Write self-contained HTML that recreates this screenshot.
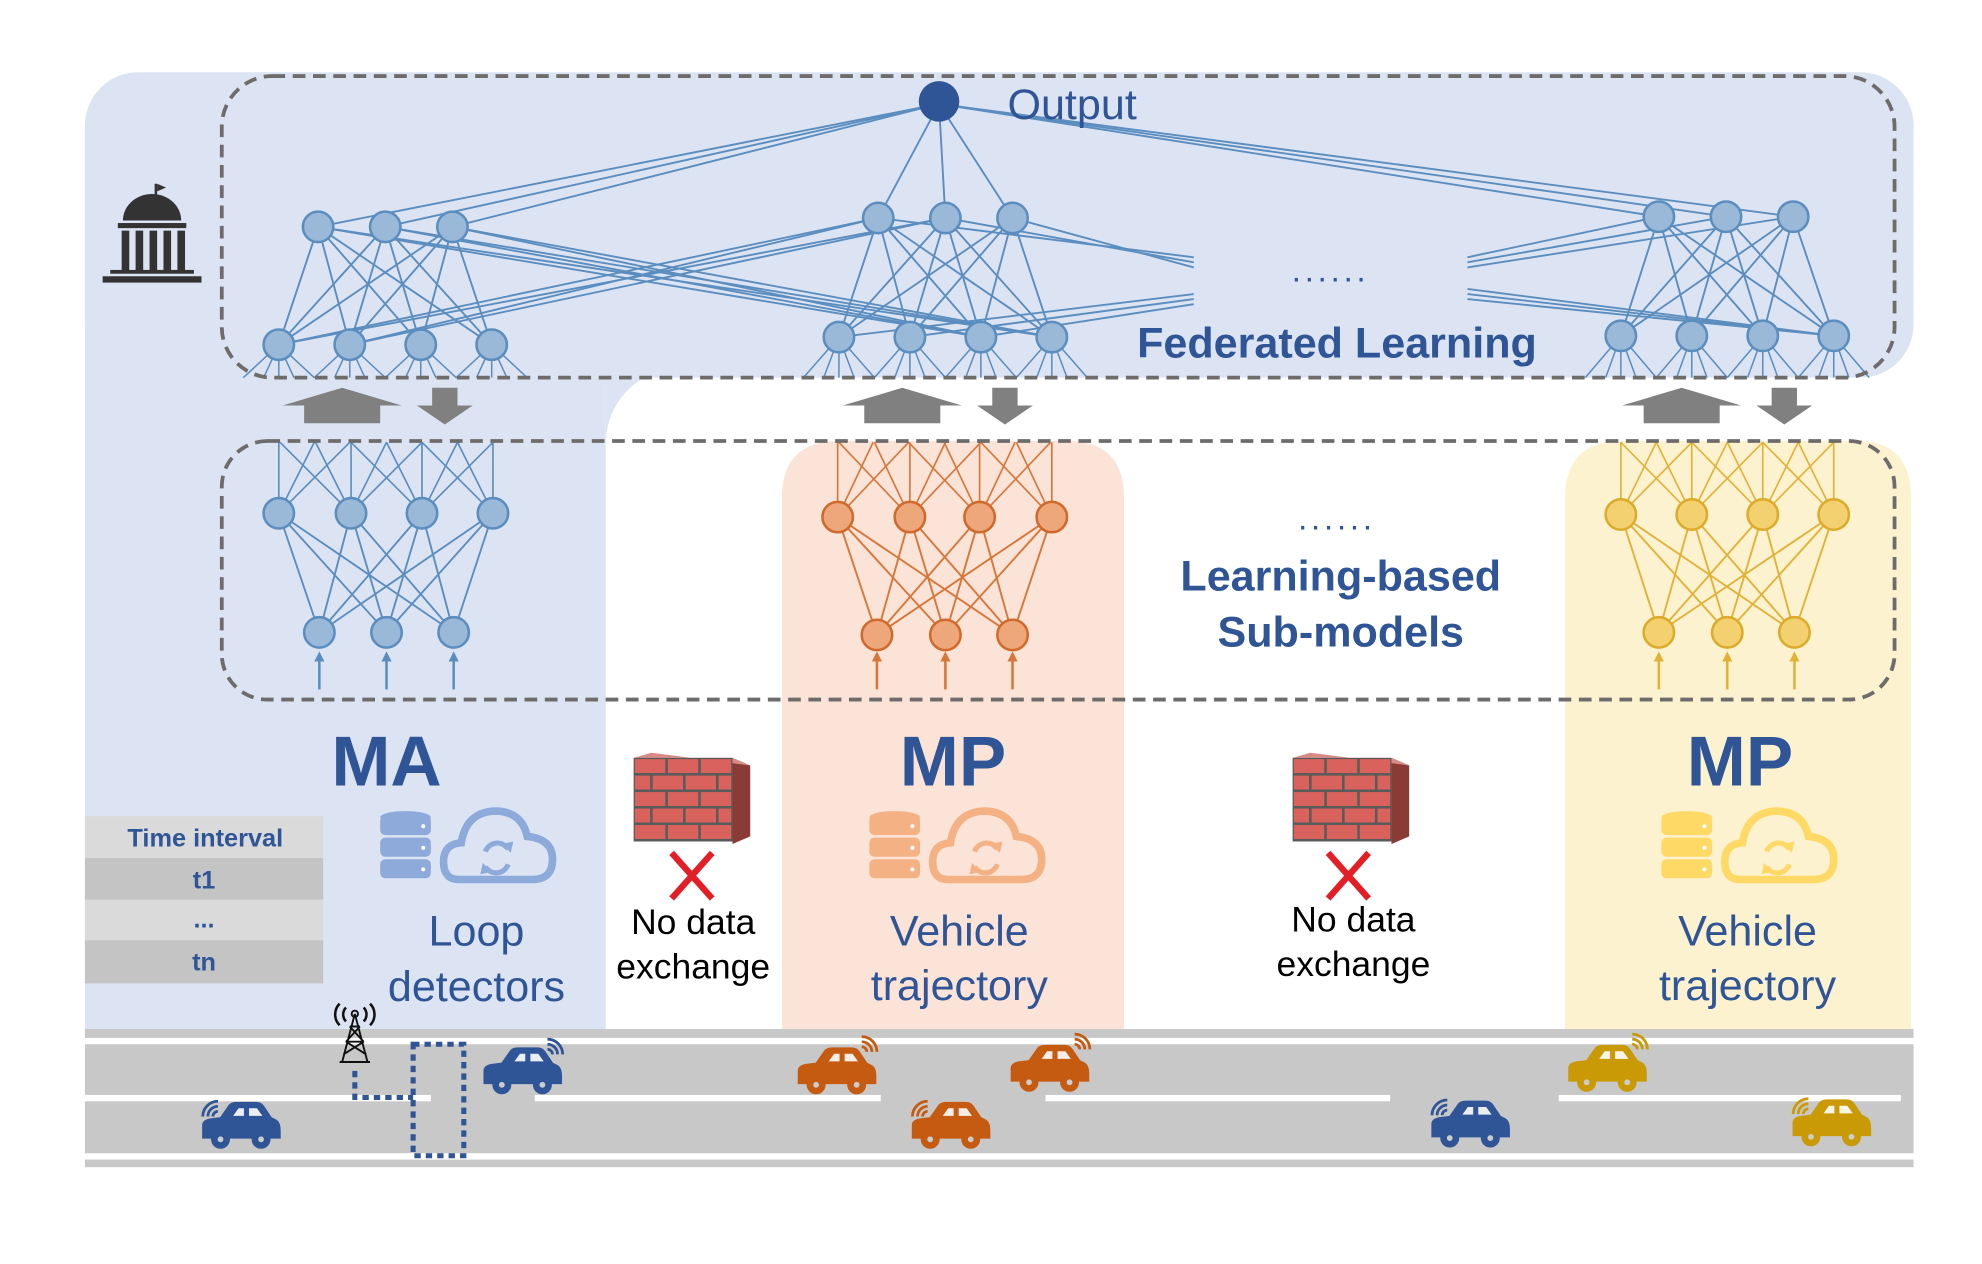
<!DOCTYPE html>
<html><head><meta charset="utf-8"><style>
html,body{margin:0;padding:0;background:#fff;width:1982px;height:1264px;overflow:hidden}
svg{display:block}
text{font-family:"Liberation Sans",Arial,sans-serif}
</style></head><body>
<svg id="s" width="1982" height="1264" viewBox="0 0 1564 997.4" preserveAspectRatio="none" xmlns="http://www.w3.org/2000/svg">
<defs>
<g id="car">
 <path d="M-30,8 L-30,-2 Q-30,-6 -24,-7 L-16,-8 L-9,-18 Q-7,-20 -3,-20 L12,-20 Q16,-20 18,-17 L24,-8 L28,-6 Q31,-4 31,2 L31,8 Z"/>
 <path d="M-7,-9 L-2,-16 L3,-16 L3,-9 Z M6,-9 L6,-16 L13,-16 L18,-9 Z" fill="#fff" opacity="0.9"/>
 <circle cx="-16" cy="9" r="7"/><circle cx="16" cy="9" r="7"/>
 <circle cx="-16" cy="9" r="2.8" fill="#ccc"/><circle cx="16" cy="9" r="2.8" fill="#ccc"/>
</g>
<g id="wifi" fill="none" stroke-width="2.2">
 <path d="M0,0 A4,4 0 0 1 4,4"/><path d="M0,-4 A8,8 0 0 1 8,4"/><path d="M0,-8 A12,12 0 0 1 12,4"/>
</g>
</defs>
<!-- backgrounds -->
<path d="M67,100 L67,815 L478,815 L478,100 Z" fill="#dce4f3"/>
<rect x="478" y="290" width="60" height="60" fill="#dce4f3"/>
<circle cx="538" cy="350" r="60" fill="#fff"/>
<rect x="538" y="298" width="80" height="52" fill="#fff"/>
<rect x="67" y="57" width="1443" height="241" rx="42" fill="#dce4f3"/>
<path d="M617,815 L617,393 Q617,348 662,348 L842,348 Q887,348 887,393 L887,815 Z" fill="#fbe4d7"/>
<path d="M1235,815 L1235,393 Q1235,348 1280,348 L1465,348 Q1508,348 1508,393 L1508,815 Z" fill="#fdf2d0"/>
<g id="net"></g>
<!-- dashed boxes -->
<rect x="175" y="60" width="1320" height="238" rx="40" fill="none" stroke="#6e6b6b" stroke-width="3" stroke-dasharray="10 6"/>
<rect x="175" y="348" width="1320" height="204" rx="36" fill="none" stroke="#6e6b6b" stroke-width="3" stroke-dasharray="10 6"/>
<!-- texts top -->
<circle cx="741" cy="80" r="16" fill="#2f5597"/>
<text x="795" y="94" font-size="34" fill="#2f5597">Output</text>
<text x="1050" y="222" font-size="26" fill="#2f5597" text-anchor="middle" letter-spacing="3">......</text>
<text x="1055" y="282" font-size="34" font-weight="bold" fill="#2f5597" text-anchor="middle">Federated Learning</text>
<text x="1055" y="418" font-size="26" fill="#2f5597" text-anchor="middle" letter-spacing="3">......</text>
<text x="1058" y="466" font-size="34" font-weight="bold" fill="#2f5597" text-anchor="middle">Learning-based</text>
<text x="1058" y="510" font-size="34" font-weight="bold" fill="#2f5597" text-anchor="middle">Sub-models</text>
<!-- building -->
<g fill="#333">
 <rect x="122" y="145" width="2" height="14"/><path d="M124,145 L131,148 L124,151Z"/>
 <path d="M97,174 A22,20 0 0 1 143,174 Z"/>
 <rect x="93" y="176" width="54" height="4"/>
 <rect x="96" y="182" width="6" height="32"/><rect x="107" y="182" width="6" height="32"/><rect x="118" y="182" width="6" height="32"/><rect x="129" y="182" width="6" height="32"/><rect x="140" y="182" width="6" height="32"/>
 <rect x="87" y="213" width="66" height="3"/><rect x="81" y="218" width="78" height="5"/>
</g>
<!-- gray arrows -->
<g fill="#808080" id="arrows"></g>
<!-- labels -->
<text x="305" y="620" font-size="56" font-weight="bold" fill="#2f5597" text-anchor="middle">MA</text>
<text x="752" y="620" font-size="56" font-weight="bold" fill="#2f5597" text-anchor="middle">MP</text>
<text x="1373" y="620" font-size="56" font-weight="bold" fill="#2f5597" text-anchor="middle">MP</text>
<text x="376" y="746" font-size="34" fill="#2f5597" text-anchor="middle">Loop</text>
<text x="376" y="790" font-size="34" fill="#2f5597" text-anchor="middle">detectors</text>
<text x="757" y="746" font-size="34" fill="#2f5597" text-anchor="middle">Vehicle</text>
<text x="757" y="789" font-size="34" fill="#2f5597" text-anchor="middle">trajectory</text>
<text x="1379" y="746" font-size="34" fill="#2f5597" text-anchor="middle">Vehicle</text>
<text x="1379" y="789" font-size="34" fill="#2f5597" text-anchor="middle">trajectory</text>
<text x="547" y="737" font-size="28" fill="#000" text-anchor="middle">No data</text>
<text x="547" y="772" font-size="28" fill="#000" text-anchor="middle">exchange</text>
<text x="1068" y="735" font-size="28" fill="#000" text-anchor="middle">No data</text>
<text x="1068" y="770" font-size="28" fill="#000" text-anchor="middle">exchange</text>
<!-- table -->
<rect x="67" y="644" width="188" height="33" fill="#dadada"/>
<rect x="67" y="677" width="188" height="33" fill="#c4c4c4"/>
<rect x="67" y="710" width="188" height="32" fill="#dadada"/>
<rect x="67" y="742" width="188" height="34" fill="#c4c4c4"/>
<g font-size="20" font-weight="bold" fill="#2f5597" text-anchor="middle">
<text x="162" y="668">Time interval</text><text x="161" y="701">t1</text><text x="161" y="732">...</text><text x="161" y="766">tn</text></g>
<g id="icons"></g>
<!-- firewalls -->
<g id="fw"></g>
<!-- X -->
<g stroke="#e41e26" stroke-width="5">
<line x1="530" y1="673" x2="562" y2="709"/><line x1="562" y1="673" x2="530" y2="709"/>
<line x1="1048" y1="673" x2="1080" y2="709"/><line x1="1080" y1="673" x2="1048" y2="709"/>
</g>
<!-- road -->
<rect x="67" y="812" width="1443" height="7" fill="#c8c8c8"/>
<rect x="67" y="824" width="1443" height="40" fill="#c8c8c8"/>
<rect x="67" y="869" width="1443" height="41" fill="#c8c8c8"/>
<rect x="67" y="915" width="1443" height="6" fill="#c8c8c8"/>
<g fill="#c8c8c8"><rect x="340" y="862" width="82" height="9"/><rect x="695" y="862" width="130" height="9"/><rect x="1097" y="862" width="133" height="9"/><rect x="1500" y="862" width="10" height="9"/></g>
<!-- tower -->
<g stroke="#111" stroke-width="1.5" fill="none">
<path d="M280,800 L270,838 M280,800 L290,838 M268,838 L292,838 M273,822 L287,822 M276,810 L284,810 M273,822 L284,810 M287,822 L276,810 M271,832 L287,822 M289,832 L273,822"/>
<circle cx="280" cy="800" r="2.5"/>
<path d="M273,795 A8,8 0 0 0 273,806 M287,795 A8,8 0 0 1 287,806 M268,792 A12,12 0 0 0 268,809 M292,792 A12,12 0 0 1 292,809" stroke-width="2"/>
</g>
<g stroke="#2f5597" stroke-width="4" stroke-dasharray="5 4" fill="none">
<path d="M280,845 L280,866 L326,866"/>
<rect x="326" y="824" width="40" height="88"/>
</g>
<!-- cars -->
<g fill="#2f5597" stroke="#2f5597"><use href="#car" x="190" y="890"/><use href="#car" x="412" y="847"/><use href="#car" x="1160" y="889"/></g>
<g fill="#c55a11" stroke="#c55a11"><use href="#car" x="660" y="847"/><use href="#car" x="828" y="845"/><use href="#car" x="750" y="890"/></g>
<g fill="#c99a06" stroke="#c99a06"><use href="#car" x="1268" y="845"/><use href="#car" x="1445" y="888"/></g>
<g stroke="#2f5597"><use href="#wifi" x="432" y="828"/><use href="#wifi" x="172" y="877" transform="translate(344,0) scale(-1,1)"/><use href="#wifi" x="1142" y="876" transform="translate(2284,0) scale(-1,1)"/></g>
<g stroke="#c55a11"><use href="#wifi" x="680" y="826"/><use href="#wifi" x="848" y="824"/><use href="#wifi" x="732" y="877" transform="translate(1464,0) scale(-1,1)"/></g>
<g stroke="#c99a06"><use href="#wifi" x="1288" y="824"/><use href="#wifi" x="1427" y="875" transform="translate(2854,0) scale(-1,1)"/></g>
</svg>
<script>
var NS="http://www.w3.org/2000/svg";
function el(p,t,a){var e=document.createElementNS(NS,t);for(var k in a)e.setAttribute(k,a[k]);p.appendChild(e);return e;}
var net=document.getElementById('net');
function L(x1,y1,x2,y2,c,w){el(net,'line',{x1:x1,y1:y1,x2:x2,y2:y2,stroke:c,'stroke-width':w||1.5});}
var BL="#5b8dbf",BF="#9ab8d8";
var G=[{u:[251,304,357],uy:179,l:[220,276,332,388],ly:272},
{u:[693,746,799],uy:172,l:[662,718,774,830],ly:266},
{u:[1309,1362,1415],uy:171,l:[1279,1335,1391,1447],ly:265}];
var nodes=[];
G.forEach(function(g){g.u.forEach(function(x){L(741,82,x,g.uy,BL);});});
G.forEach(function(g){
 g.u.forEach(function(ux){g.l.forEach(function(lx){L(ux,g.uy,lx,g.ly,BL);});});
 g.l.forEach(function(lx,i){[-28,-12,0,12,28].forEach(function(d){L(lx,g.ly,lx+d,298,BL,1.2);});});
});
var A=G[0],B=G[1],C=G[2];
A.u.forEach(function(x){[774,830].forEach(function(t){L(x,A.uy,t,B.ly,BL);});});
A.l.slice(0,2).forEach(function(x){[693,746].forEach(function(t){L(x,A.ly,t,B.uy,BL);});});
B.u.forEach(function(x,i){L(x,B.uy,942,203+i*4,BL);});
B.l.forEach(function(x,i){if(i<3)L(x,B.ly,942,232+i*4,BL);});
C.u.forEach(function(x,i){L(1158,203+i*4,x,C.uy,BL);});
[0,1,2].forEach(function(i){L(1158,228+i*4,1447,C.ly,BL);});
G.forEach(function(g){g.u.forEach(function(x){nodes.push([x,g.uy,BF,BL]);});g.l.forEach(function(x){nodes.push([x,g.ly,BF,BL]);});});
var S=[{m:[220,277,333,389],my:405,b:[252,305,358],by:499,lc:"#5b8dbf",f:"#9ab8d8",s:"#5b8dbf"},
{m:[661,718,773,830],my:408,b:[692,746,799],by:501,lc:"#d7763a",f:"#eda77a",s:"#d0692c"},
{m:[1279,1335,1391,1447],my:406,b:[1309,1363,1416],by:499,lc:"#e2b237",f:"#f3d070",s:"#ddab2a"}];
S.forEach(function(s){
 s.m.forEach(function(mx){s.b.forEach(function(bx){L(mx,s.my,bx,s.by,s.lc);});
   [-56,-28,0,28,56].forEach(function(d){var tx=mx+d;if(tx>=s.m[0]-2&&tx<=s.m[3]+2)L(mx,s.my,tx,349,s.lc,1.3);});});
 s.b.forEach(function(bx){L(bx,544,bx,520,s.lc,2);el(net,'path',{d:'M'+(bx-4)+',522 L'+bx+',514 L'+(bx+4)+',522 Z',fill:s.lc});});
 s.m.forEach(function(x){nodes.push([x,s.my,s.f,s.s]);});
 s.b.forEach(function(x){nodes.push([x,s.by,s.f,s.s]);});
});
nodes.forEach(function(n){el(net,'circle',{cx:n[0],cy:n[1],r:12,fill:n[2],stroke:n[3],'stroke-width':2});});
var ar=document.getElementById('arrows');
[[270,351],[712,793],[1327,1408]].forEach(function(p){
 var u=p[0],d=p[1];
 el(ar,'path',{d:'M'+(u-47)+',320 L'+u+',306 L'+(u+47)+',320 L'+(u+30)+',320 L'+(u+30)+',334 L'+(u-30)+',334 L'+(u-30)+',320 Z'});
 el(ar,'path',{d:'M'+(d-10)+',306 L'+(d+10)+',306 L'+(d+10)+',320 L'+(d+22)+',320 L'+d+',335 L'+(d-22)+',320 L'+(d-10)+',320 Z'});
});
var ic=document.getElementById('icons');
[[300,"#8eaadb"],[686,"#f4b183"],[1311,"#ffd966"]].forEach(function(p){
 var x=p[0],c=p[1];
 for(var i=0;i<3;i++){el(ic,'rect',{x:x,y:644+i*17,width:40,height:15,rx:4,fill:c});}
 el(ic,'ellipse',{cx:x+20,cy:645,rx:20,ry:5,fill:c});
 for(var i=0;i<3;i++)el(ic,'circle',{cx:x+34,cy:652+i*17,r:1.6,fill:"#fff"});
 var cx=x+50;
 el(ic,'path',{d:'M'+(cx+12)+',694 Q'+cx+',694 '+cx+',680 Q'+cx+',666 '+(cx+14)+',665 Q'+(cx+18)+',640 '+(cx+42)+',640 Q'+(cx+62)+',641 '+(cx+66)+',660 Q'+(cx+86)+',662 '+(cx+86)+',678 Q'+(cx+86)+',694 '+(cx+70)+',694 Z',fill:'none',stroke:c,'stroke-width':6});
 el(ic,'path',{d:'M'+(cx+33)+',672 A10,10 0 0 1 '+(cx+51)+',670 M'+(cx+51)+',682 A10,10 0 0 1 '+(cx+33)+',684',fill:'none',stroke:c,'stroke-width':4});
 el(ic,'path',{d:'M'+(cx+46)+',666 L'+(cx+55)+',664 L'+(cx+53)+',673 Z M'+(cx+38)+',688 L'+(cx+29)+',690 L'+(cx+31)+',681 Z',fill:c});
});
var fw=document.getElementById('fw');
[500,1020].forEach(function(x){
 el(fw,'path',{d:'M'+(x+78)+','+598+' L'+(x+92)+',604 L'+(x+92)+',660 L'+(x+78)+',666 Z',fill:'#8a3b36'});
 el(fw,'path',{d:'M'+x+',598 L'+(x+14)+',594 L'+(x+92)+',604 L'+(x+78)+',598 Z',fill:'#d98a85'});
 el(fw,'rect',{x:x,y:598,width:78,height:66,fill:'#5a5a5a'});
 for(var r=0;r<5;r++){var off=(r%2)?-12:0;for(var k=-1;k<4;k++){var bx=x+off+k*26+1,bw=24;var x0=Math.max(bx,x+1),x1=Math.min(bx+bw,x+77);if(x1-x0>3)el(fw,'rect',{x:x0,y:599+r*13,width:x1-x0,height:11,fill:'#d9625c'});}}
});
</script>
</body></html>
